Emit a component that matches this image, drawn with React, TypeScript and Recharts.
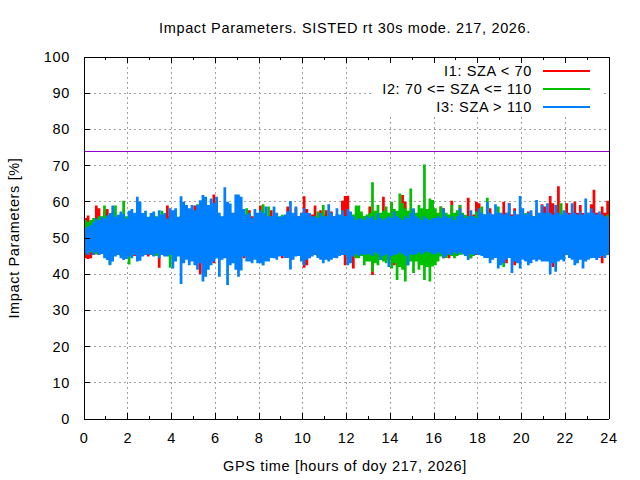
import React from 'react';
import { ComposedChart, Area, XAxis, YAxis, CartesianGrid, ReferenceLine } from 'recharts';

// 192 time bins (7.5 min each) over 24 hours; per-bin min/max envelope
const BIN_HOURS = 0.125;

const redHi = [
  55.5, 56.2, 54, 53.5, 59, 58.2, 55, 57.5,
  58, 56, 55, 54.5, 55, 56, 55.5, 55,
  55, 56, 55.5, 56, 55, 55, 56, 54.5,
  55, 56, 55, 56, 55.5, 55, 59, 56,
  56, 55.5, 55, 56, 55, 59, 57, 56,
  59, 56, 57, 58, 58, 56, 57, 62,
  55, 55, 55.5, 56, 55, 55, 56.1, 55,
  55.5, 55, 56.4, 56, 57.7, 56, 55.5, 56,
  59, 56, 55.5, 56, 57.7, 56, 55.5, 55,
  55.9, 55, 58.7, 56, 56, 58.2, 56, 57,
  61.5, 58, 56, 56.5, 59, 56, 57.7, 56.5,
  57.7, 56, 57.3, 56, 56.5, 56, 60.3, 61.6,
  61.7, 57, 55.5, 56, 56.9, 55.5, 56, 55.5,
  58.7, 56, 55.5, 56, 55.5, 61.4, 56, 56,
  59.6, 56, 55.5, 56, 61.9, 60, 56, 55.5,
  55.5, 56, 55.5, 56.9, 55, 56, 55.5, 56,
  56, 55.5, 58.7, 58.2, 56, 55.5, 60.3, 56,
  56, 59.1, 56, 55.5, 61.1, 56, 56.5, 60,
  59.6, 56, 56.5, 56, 58.2, 56.5, 56, 56.5,
  56.5, 60, 57, 59.7, 56.5, 58.2, 56.5, 56,
  56.5, 56, 57.3, 56.5, 56, 57.7, 56.5, 59.3,
  58.7, 57, 61.6, 59.6, 57, 64.3, 57, 56.5,
  59.6, 57, 56.5, 60, 57, 59.1, 56.9, 56.5,
  57, 59.3, 63.3, 57, 56.5, 58.7, 57, 60.3,
];
const redLo = [
  44.4, 44.2, 44.4, 45.3, 45.5, 45.3, 45.7, 46.2,
  46.7, 45, 45.5, 45.5, 46, 45.5, 45, 45.5,
  45, 45.5, 45, 45.5, 45.5, 46, 45.5, 44.9,
  45.5, 45, 45.5, 41.8, 45.5, 45, 45.5, 46,
  45.5, 45, 45.5, 45, 45, 45.5, 45, 45.5,
  45, 45.5, 40, 45, 45.5, 45, 43.5, 43,
  45.5, 46, 45.5, 46, 45, 45.5, 46, 45.5,
  45.5, 45, 44.4, 45.5, 46, 45.5, 45, 45.5,
  44.9, 45.5, 45, 45.5, 45.3, 46, 45.5, 45,
  44.4, 45.5, 45, 46, 45.5, 45, 45.5, 46,
  41.8, 42.5, 45, 45.5, 45.3, 45, 45.5, 45,
  44.4, 45.5, 45, 45.5, 46, 45, 45.5, 42.5,
  46.2, 45.5, 41.6, 45, 45.5, 46, 45.5, 45,
  45.5, 39.8, 45, 45.5, 45, 45.5, 46, 45.5,
  45.5, 42.5, 45, 45.5, 46, 45.5, 45, 45.5,
  45.5, 46, 45.3, 45.5, 46, 45.5, 46, 45.5,
  45.5, 46, 45.5, 44.4, 45, 44.4, 45.5, 45,
  45.7, 46, 45.5, 45, 45.5, 44.4, 45.5, 45.3,
  45.5, 46, 45.5, 46, 45.5, 46, 45.3, 45.5,
  45.5, 45, 43, 45, 45.5, 42.5, 45, 45.5,
  45.5, 45, 45.5, 45, 44.9, 45.5, 46, 45.5,
  45.5, 45, 45.5, 42, 45, 44.4, 45.5, 45,
  45.5, 46.2, 45.5, 45.3, 45.5, 45, 45.5, 46,
  45.5, 45, 44.9, 45.5, 45, 43, 45.5, 46.2,
];
const greenHi = [
  55, 54.5, 55, 55.5, 55, 56, 56, 59,
  56, 56.5, 57, 59, 56, 56.5, 60.3, 56,
  57, 56.2, 56, 55, 56, 56, 55.5, 55,
  56, 57, 56, 55.5, 57.5, 56, 55, 56,
  56, 55.9, 55, 56, 55.5, 55, 56, 55,
  56, 59.3, 56, 55, 56, 55.5, 56, 56,
  55.5, 56, 55, 56, 55.5, 56, 55, 55.5,
  56, 55.5, 56, 58.2, 56, 55.5, 56, 55,
  56, 59.3, 56, 58.7, 55.5, 56, 55.5, 56,
  56.4, 55, 56, 55.5, 55, 56, 55.5, 55.4,
  55.5, 56, 55, 55.5, 56, 57.3, 56, 59.1,
  56, 57.7, 56, 55.5, 56, 55.5, 56.9, 56,
  56, 57, 56.5, 59, 59, 57.3, 56, 56.5,
  57, 65.4, 57.5, 59.1, 57, 57.5, 58.7, 57,
  60, 58, 57.5, 62.3, 59.6, 58.2, 57.5, 63.7,
  57.7, 57, 59.1, 58.2, 70.3, 58, 60.9, 60.5,
  58.2, 57, 58.7, 57.7, 57, 56.5, 59.1, 57,
  57.7, 59.1, 57, 56.4, 56, 55.5, 56, 57.3,
  56, 58.7, 56.5, 61.1, 56, 55.5, 56, 58.7,
  56, 55.5, 56, 55.5, 56, 55.5, 56, 55,
  55.5, 56.9, 56, 55.5, 56, 55.5, 56, 55.5,
  56, 55.5, 56, 55.5, 56, 55.5, 59.6, 55.5,
  56, 55.5, 56, 55.5, 56, 55.5, 56, 55.5,
  55.5, 56, 55.5, 56, 55.5, 56, 55.5, 56.4,
];
const greenLo = [
  46, 45.5, 46, 46, 45.5, 46, 46, 45.5,
  45.5, 42.7, 45, 45.5, 46, 45, 45.5, 45,
  42.7, 45, 45.5, 44.4, 45.5, 45, 46, 45.5,
  46, 45.5, 45, 45.5, 46, 45.5, 45, 41.8,
  46, 45.5, 45, 45.5, 46, 45.5, 45, 45.5,
  45.5, 46, 45, 45.5, 46, 45.5, 45, 44.2,
  44.4, 45.5, 46, 45.5, 45, 46, 45.5, 45,
  45.5, 46, 45.3, 45.5, 45, 44.2, 45.5, 46,
  45.5, 42.5, 45, 45.5, 46, 45.5, 45, 45.5,
  46, 46.2, 46, 45.5, 46, 45.5, 46, 46.2,
  46, 45.5, 46, 45.5, 45.3, 45, 46, 45.5,
  46, 46.7, 46, 45.5, 46, 45.5, 46, 45.5,
  43.9, 45, 45.5, 44.4, 44.4, 45, 42.5, 43.5,
  43.5, 40.7, 43, 42.5, 44, 43.5, 43, 44,
  41.6, 43, 38.4, 42, 41.2, 38, 42.5, 43.5,
  40.3, 43.5, 41.2, 42.5, 38.4, 42, 38, 42.1,
  42.5, 43.5, 44.9, 45, 44.5, 45.3, 45, 44.4,
  45, 45.3, 45.5, 45.3, 45.5, 44.4, 45, 45.5,
  46, 45.5, 45.3, 46, 45.5, 46, 45.5, 46,
  45.5, 42, 45.5, 46, 45.5, 46, 45.3, 46,
  46, 45.5, 46, 45.5, 46, 45.5, 46, 45.5,
  44.9, 45.5, 46, 45.5, 46, 45.5, 46, 45.5,
  46, 45.5, 46, 45.5, 46.2, 45.5, 46, 45.5,
  46, 45.5, 46, 45.5, 46, 45.5, 46, 46,
];
const blueHi = [
  52.7, 53.2, 53.6, 54.5, 55.4, 55, 55.9, 55.4,
  56.2, 56.9, 59, 55.9, 56.4, 57.3, 56.6, 55.4,
  57.5, 58, 57, 61.4, 60, 56.9, 57.5, 55.9,
  56.9, 57.3, 55.9, 57.7, 56.4, 56.9, 55.4, 58.2,
  57.7, 58.2, 55.9, 61.5, 60, 59.1, 58.2, 59.1,
  57.7, 59.1, 60.4, 61.9, 61.4, 59.1, 60.9, 59.6,
  61.4, 57, 56, 64, 60, 59.5, 57, 62,
  62, 61.4, 58, 56.5, 57, 55.5, 58, 57,
  57.7, 57, 58.7, 56, 56, 58.7, 57, 55.9,
  56, 56.5, 57.3, 60.2, 57, 58.7, 56, 56.9,
  58.2, 57, 56.9, 56, 55.9, 55.5, 56.9, 56,
  56, 59.3, 57, 56, 58.2, 56.5, 57.7, 56,
  58, 57.3, 56, 55, 55.5, 55.4, 55, 56,
  55.5, 56, 55, 56.9, 55.5, 55, 55.5, 56,
  55.5, 57.3, 56, 55.5, 55, 56, 55.5, 57,
  58.2, 56, 55.5, 55, 56, 55.4, 55, 55.5,
  55.5, 56, 55.5, 58.2, 56, 55.5, 56, 55,
  56, 58.2, 56.5, 55.5, 56, 57.7, 56, 55.5,
  58.2, 57, 56.5, 60, 57, 56.5, 59.3, 57,
  57, 56.5, 57, 59.6, 56, 57.5, 56.5, 61.6,
  58.2, 56.5, 57, 57.7, 56, 60.5, 57, 59.1,
  57, 59.6, 57, 56.5, 59.1, 57, 56.5, 57.7,
  57, 56.5, 59.6, 57, 56.5, 57.3, 56.5, 60.9,
  57, 58.2, 57, 56.5, 57.3, 56.5, 56, 55.9,
];
const blueLo = [
  45.7, 45.3, 46.2, 45.3, 46, 45.3, 45.6, 44.4,
  43.9, 42.5, 43.5, 44.9, 45.3, 44.4, 43.9, 44.2,
  44.9, 44.4, 45.3, 43.5, 43.7, 44.9, 45.3, 45.5,
  45.3, 44.9, 45.7, 44.4, 45.3, 44.9, 44.9, 45.3,
  41.6, 43.5, 44.9, 37.3, 43, 44, 42.5, 43.5,
  42.5, 41.2, 43, 38, 39.3, 41.2, 42.5, 43.5,
  44.4, 39.3, 44, 44.4, 37, 42.5, 43, 41.2,
  39.3, 41, 44.9, 43.5, 43.5, 43, 44, 43,
  43, 42.5, 43.5, 43.5, 44.5, 44.4, 44, 44.9,
  45, 44.5, 44.5, 41.3, 44, 44.9, 45, 43.5,
  42.5, 44, 44.4, 44.9, 45.3, 44.5, 44, 43,
  44, 43.5, 44, 44.5, 44.4, 45, 45.3, 45.3,
  42.5, 43, 44.9, 45.5, 45, 45.5, 45.3, 45.5,
  45.5, 45, 46, 45.5, 43.9, 45, 45.5, 42,
  45, 45.3, 45.5, 46, 45.5, 45, 42.5, 45.5,
  45.3, 45.5, 46, 45.5, 46, 46.2, 46, 45.5,
  45.5, 46, 45.5, 44.4, 45, 45.5, 45.3, 46,
  45.5, 46, 45.5, 45, 43.9, 45.5, 45.3, 45.5,
  45.3, 45, 44.5, 44.5, 43, 44, 44.5, 41.6,
  42.5, 43, 44, 44.5, 40.3, 43.5, 43, 41.6,
  44, 43.5, 42.5, 43, 44, 43.5, 44, 43.5,
  43.5, 43.5, 40, 43, 40.7, 43.5, 44, 43.5,
  45.3, 44.5, 44, 42.5, 43, 44, 41.6, 43.5,
  44, 44.4, 44.5, 43.9, 44.5, 45, 44.5, 45.3,
];

const xTicks = [0, 1, 2, 3, 4, 5, 6, 7, 8, 9, 10, 11, 12, 13, 14, 15, 16, 17, 18, 19, 20, 21, 22, 23, 24];
const xGrid = [2, 4, 6, 8, 10, 12, 14, 16, 18, 20, 22];
const yTicks = [0, 10, 20, 30, 40, 50, 60, 70, 80, 90, 100];
const yGrid = [10, 20, 30, 40, 50, 60, 70, 80, 90];
const thresholdValue = 74;

const seriesNames = ['I1: SZA < 70', 'I2: 70 <= SZA <= 110', 'I3: SZA > 110'];
const seriesColors = ['#ff0000', '#00c000', '#0080ff'];
const titleText = 'Impact Parameters. SISTED rt 30s mode. 217, 2026.';
const xLabel = 'GPS time [hours of doy 217, 2026]';
const yLabel = 'Impact Parameters [%]';

const N = blueHi.length;
const data = Array.from({ length: N + 1 }, (_, i) => {
  const j = Math.min(i, N - 1);
  return {
    t: i * BIN_HOURS,
    red: [redLo[j], redHi[j]],
    green: [greenLo[j], greenHi[j]],
    blue: [blueLo[j], blueHi[j]],
  };
});

const FONT = '"Liberation Sans", Arial, sans-serif';
const FS = 14.5;
const LS = 0.65;
const M = 14;

const BottomTick = (props: any) => {
  const { x, y, payload } = props;
  const v = payload.value;
  const major = v % 2 === 0;
  const ay = y - M;
  return (
    <g>
      <line x1={x} x2={x} y1={ay} y2={ay - (major ? 6 : 3)} stroke="#000" shapeRendering="crispEdges" />
      {major && (
        <text x={x} y={y + 5} textAnchor="middle" dy="0.35em" fontFamily={FONT} fontSize={FS} letterSpacing={LS} fill="#000">
          {v}
        </text>
      )}
    </g>
  );
};
const TopTick = (props: any) => {
  const { x, y, payload } = props;
  const major = payload.value % 2 === 0;
  const ay = y + M;
  return <line x1={x} x2={x} y1={ay} y2={ay + (major ? 6 : 3)} stroke="#000" shapeRendering="crispEdges" />;
};
const LeftTick = (props: any) => {
  const { x, y, payload } = props;
  const ax = x + M;
  return (
    <g>
      <line x1={ax} x2={ax + 6} y1={y} y2={y} stroke="#000" shapeRendering="crispEdges" />
      <text x={x} y={y} textAnchor="end" dy="0.35em" fontFamily={FONT} fontSize={FS} letterSpacing={LS} fill="#000">
        {payload.value}
      </text>
    </g>
  );
};
const RightTick = (props: any) => {
  const { x, y } = props;
  const ax = x - M;
  return <line x1={ax} x2={ax - 6} y1={y} y2={y} stroke="#000" shapeRendering="crispEdges" />;
};

const textStyle: React.CSSProperties = {
  position: 'absolute',
  fontFamily: FONT,
  fontSize: FS,
  letterSpacing: LS,
  whiteSpace: 'nowrap',
  lineHeight: '18px',
  color: '#000',
};

export default function App() {
  return (
    <div style={{ position: 'absolute', left: 0, top: 0, width: 640, height: 480, background: '#fff' }}>
      <ComposedChart width={640} height={480} data={data} margin={{ top: 0, right: 0, bottom: 0, left: 0 }}>
        <CartesianGrid
          xAxisId="b"
          yAxisId="l"
          verticalValues={xGrid}
          horizontalValues={yGrid}
          stroke="#a0a0a0"
          strokeDasharray="2 3"
          shapeRendering="crispEdges"
        />
        <XAxis
          xAxisId="b"
          dataKey="t"
          type="number"
          domain={[0, 24]}
          ticks={xTicks}
          interval={0}
          orientation="bottom"
          height={61}
          tickSize={0}
          tickMargin={M}
          tickLine={false}
          axisLine={{ stroke: '#000', shapeRendering: 'crispEdges' }}
          tick={BottomTick}
        />
        <XAxis
          xAxisId="t"
          dataKey="t"
          type="number"
          domain={[0, 24]}
          ticks={xTicks}
          interval={0}
          orientation="top"
          height={57}
          tickSize={0}
          tickMargin={M}
          tickLine={false}
          axisLine={{ stroke: '#000', shapeRendering: 'crispEdges' }}
          tick={TopTick}
        />
        <YAxis
          yAxisId="l"
          type="number"
          domain={[0, 100]}
          ticks={yTicks}
          interval={0}
          width={84}
          tickSize={0}
          tickMargin={M}
          tickLine={false}
          axisLine={{ stroke: '#000', shapeRendering: 'crispEdges' }}
          tick={LeftTick}
        />
        <YAxis
          yAxisId="r"
          orientation="right"
          type="number"
          domain={[0, 100]}
          ticks={yTicks}
          interval={0}
          width={31}
          tickSize={0}
          tickMargin={M}
          tickLine={false}
          axisLine={{ stroke: '#000', shapeRendering: 'crispEdges' }}
          tick={RightTick}
        />
        <Area xAxisId="b" yAxisId="l" type="stepAfter" dataKey="red" stroke="none" fill={seriesColors[0]} fillOpacity={1} isAnimationActive={false} />
        <Area xAxisId="b" yAxisId="l" type="stepAfter" dataKey="green" stroke="none" fill={seriesColors[1]} fillOpacity={1} isAnimationActive={false} />
        <Area xAxisId="b" yAxisId="l" type="stepAfter" dataKey="blue" stroke="none" fill={seriesColors[2]} fillOpacity={1} isAnimationActive={false} />
        <ReferenceLine xAxisId="b" yAxisId="l" y={thresholdValue} stroke="#9400d3" strokeWidth={1} shapeRendering="crispEdges" />
      </ComposedChart>

      <div style={{ ...textStyle, left: 345, top: 27.7, transform: 'translate(-50%, -50%)' }}>{titleText}</div>
      <div style={{ ...textStyle, left: 345, top: 466, transform: 'translate(-50%, -50%)' }}>{xLabel}</div>
      <div style={{ ...textStyle, left: 14, top: 238, transform: 'translate(-50%, -50%) rotate(-90deg)' }}>{yLabel}</div>

      <div style={{ position: 'absolute', left: 372, top: 63, width: 231, height: 54, background: '#fff' }} />
      {seriesNames.map((name, i) => (
        <React.Fragment key={name}>
          <div style={{ ...textStyle, right: 640 - 532, top: 70.7 + i * 18.3 - 9, textAlign: 'right' }}>{name}</div>
          <div style={{ position: 'absolute', left: 543, width: 47, top: 70.7 + i * 18.3 - 1, height: 2, background: seriesColors[i] }} />
        </React.Fragment>
      ))}
    </div>
  );
}
